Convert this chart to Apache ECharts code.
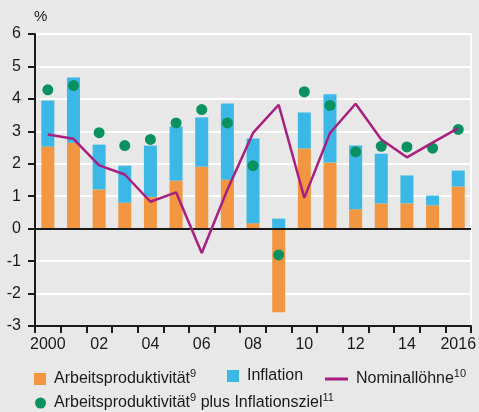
<!DOCTYPE html>
<html>
<head>
<meta charset="utf-8">
<script src="https://cdn.jsdelivr.net/npm/echarts@6/dist/echarts.min.js"></script>
<style>
  html, body { margin: 0; padding: 0; background: #e8e8e8; }
  #chart { width: 479px; height: 412px; }
</style>
</head>
<body>
<div id="chart"></div>
<script>
var years = ['2000', '2001', '2002', '2003', '2004', '2005', '2006', '2007', '2008',
  '2009', '2010', '2011', '2012', '2013', '2014', '2015', '2016']
var yTicks = [-3, 6, 1]
var produktivitaet = [2.53, 2.65, 1.21, 0.8, 0.98, 1.48, 1.91, 1.51, 0.17,
  -2.58, 2.47, 2.04, 0.6, 0.78, 0.78, 0.72, 1.3]
var inflation = [1.42, 2.01, 1.38, 1.14, 1.58, 1.67, 1.52, 2.35, 2.61,
  0.31, 1.11, 2.1, 1.96, 1.53, 0.86, 0.3, 0.49]
var nominalloehne = [2.9, 2.77, 1.95, 1.67, 0.83, 1.12, -0.75, 1.2, 2.95,
  3.82, 0.95, 2.95, 3.85, 2.75, 2.2, 2.65, 3.1]
var zielwert = [4.28, 4.41, 2.96, 2.56, 2.75, 3.26, 3.67, 3.26, 1.94,
  -0.81, 4.22, 3.8, 2.37, 2.54, 2.52, 2.48, 3.06]

var font = 'Liberation Sans'
var rich = {
  n: { fontFamily: font, fontSize: 16, color: '#1a1a1a', lineHeight: 22 },
  s: { fontFamily: font, fontSize: 11, color: '#1a1a1a', verticalAlign: 'top', lineHeight: 14 }
}
function legendText(name) {
  if (name === 'Arbeitsproduktivität') return '{n|Arbeitsproduktivität}{s|9}'
  if (name === 'Nominallöhne') return '{n|Nominallöhne}{s|10}'
  if (name === 'Arbeitsproduktivität plus Inflationsziel') return '{n|Arbeitsproduktivität}{s|9}{n| plus Inflationsziel}{s|11}'
  return '{n|' + name + '}'
}
function legend(name, left, top, w, h, icon) {
  return {
    left: left, top: top, itemWidth: w, itemHeight: h, itemGap: 9, padding: 0,
    selectedMode: false, formatter: legendText,
    textStyle: { rich: rich, padding: [0, 0, 0, 3] },
    data: [{ name: name, icon: icon }]
  }
}

var myChart = echarts.init(document.getElementById('chart'))
var option = {
  backgroundColor: '#e8e8e8',
  animation: false,
  grid: {
    left: 35, right: 7, top: 34, bottom: 86,
    show: true, borderColor: '#ffffff', borderWidth: 2, backgroundColor: 'transparent'
  },
  legend: [
    legend('Arbeitsproduktivität', 34, 368, 12, 12, 'rect'),
    legend('Inflation', 227, 368, 12, 12, 'rect'),
    legend('Nominallöhne', 325, 368, 23, 3, 'rect'),
    legend('Arbeitsproduktivität plus Inflationsziel', 35, 392, 11, 11, 'circle')
  ],
  xAxis: {
    type: 'category',
    data: years,
    axisLine: { onZero: false, lineStyle: { color: '#1a1a1a', width: 2 } },
    axisTick: { show: true, interval: 0, length: 7, lineStyle: { color: '#1a1a1a', width: 2 } },
    axisLabel: {
      interval: 1, margin: 11, color: '#1a1a1a', fontFamily: font, fontSize: 16,
      formatter: function (v, i) {
        return (i === 0 || i === years.length - 1) ? v : v.slice(2)
      }
    },
    splitLine: { show: false }
  },
  yAxis: {
    type: 'value',
    min: yTicks[0], max: yTicks[1], interval: yTicks[2],
    name: '%', nameLocation: 'end', nameGap: 10,
    nameTextStyle: { color: '#1a1a1a', fontFamily: font, fontSize: 15, align: 'left', padding: [0, 0, 0, -1] },
    axisLine: { show: true, lineStyle: { color: '#1a1a1a', width: 2 } },
    axisTick: { show: true, length: 7, lineStyle: { color: '#1a1a1a', width: 2 } },
    axisLabel: { margin: 14, color: '#1a1a1a', fontFamily: font, fontSize: 16 },
    splitLine: { lineStyle: { color: '#ffffff', width: 2 } }
  },
  series: [
    {
      name: 'Arbeitsproduktivität',
      type: 'bar',
      stack: 'a',
      barWidth: 13,
      data: produktivitaet,
      itemStyle: { color: '#f39642' }
    },
    {
      name: 'Inflation',
      type: 'bar',
      stack: 'a',
      barWidth: 13,
      data: inflation,
      itemStyle: { color: '#3bb8e6' },
      markLine: {
        silent: true, symbol: 'none', label: { show: false },
        lineStyle: { color: '#1a1a1a', width: 2, type: 'solid' },
        data: [{ yAxis: 0 }]
      }
    },
    {
      name: 'Arbeitsproduktivität plus Inflationsziel',
      type: 'scatter',
      symbol: 'circle',
      symbolSize: 11,
      data: zielwert,
      itemStyle: { color: '#0a9160', opacity: 1 },
      z: 4
    },
    {
      name: 'Nominallöhne',
      type: 'line',
      symbol: 'none',
      data: nominalloehne,
      lineStyle: { color: '#a91f80', width: 2.5 },
      itemStyle: { color: '#a91f80' },
      z: 5
    }
  ]
}
myChart.setOption(option)
</script>
</body>
</html>
